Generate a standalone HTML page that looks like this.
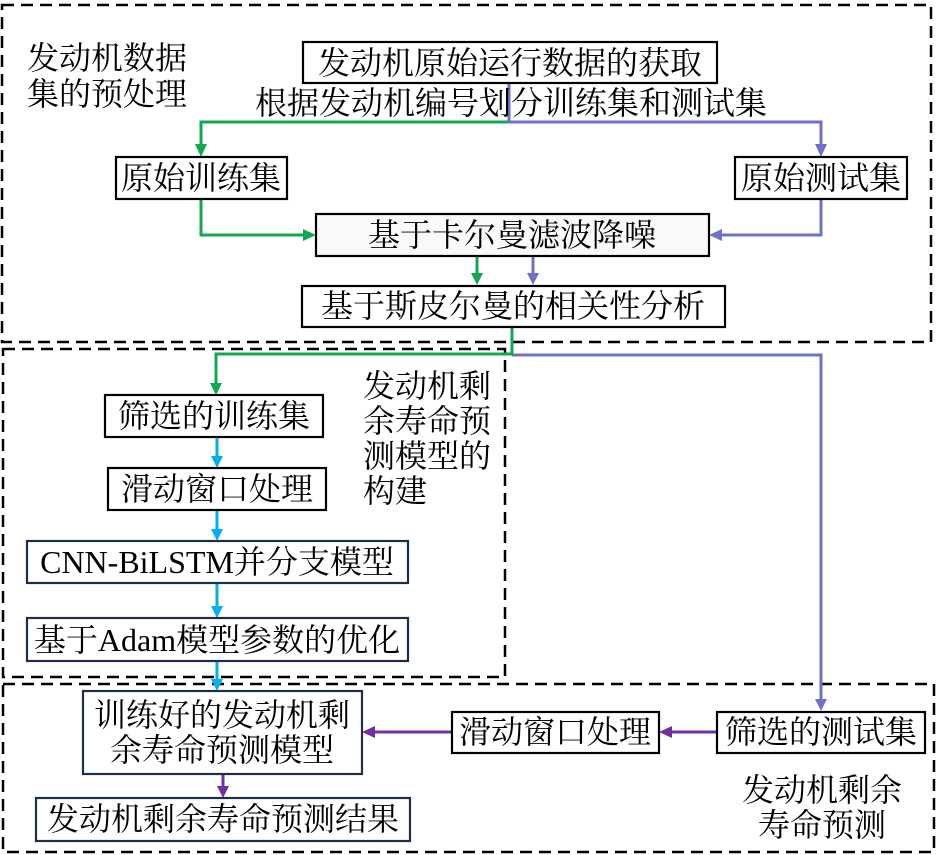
<!DOCTYPE html>
<html><head><meta charset="utf-8">
<style>
html,body{margin:0;padding:0;background:#fff;}
svg{display:block;}
text{font-family:"Liberation Serif","Noto Serif CJK SC",serif;font-size:32px;fill:#000;}
</style></head>
<body>
<svg width="938" height="855" viewBox="0 0 938 855" xmlns="http://www.w3.org/2000/svg">
<rect width="938" height="855" fill="#fff"/>
<!-- dashed group boxes -->
<g fill="none" stroke="#000" stroke-width="2.5" stroke-dasharray="12 7">
  <rect x="2" y="5" width="929" height="337"/>
  <rect x="3" y="349" width="502" height="328"/>
  <rect x="3" y="684" width="931" height="168"/>
</g>

<!-- connectors -->
<g fill="none" stroke-width="3" stroke-linejoin="miter">
  <polyline points="509,122 201,122 201,145" stroke="#10a850"/>
  <polyline points="509,83 509,122 821,122 821,145" stroke="#7070c8"/>
  <polyline points="201,199 201,235 305,235" stroke="#10a850"/>
  <polyline points="821,199 821,235 720,235" stroke="#7070c8"/>
  <line x1="477" y1="256" x2="477" y2="275" stroke="#10a850"/>
  <line x1="533" y1="256" x2="533" y2="275" stroke="#7070c8"/>
  <polyline points="821,700 821,355 512,355" stroke="#7070c8"/>
  <polyline points="512,327 512,354 216,354 216,384" stroke="#10a850"/>
  <g stroke="#00b0f0">
    <line x1="217" y1="437" x2="217" y2="458"/>
    <line x1="217" y1="510" x2="217" y2="531"/>
    <line x1="217" y1="583" x2="217" y2="608"/>
    <line x1="217" y1="661" x2="217" y2="681"/>
  </g>
  <g stroke="#7030a0">
    <line x1="717" y1="732" x2="670" y2="732"/>
    <line x1="452" y1="732" x2="373" y2="732"/>
    <line x1="223" y1="774" x2="223" y2="788"/>
  </g>
</g>
<!-- arrowheads -->
<g>
  <polygon points="195,144 207,144 201,157" fill="#10a850"/>
  <polygon points="815,144 827,144 821,157" fill="#7070c8"/>
  <polygon points="303,229 303,241 316,235" fill="#10a850"/>
  <polygon points="722,229 722,241 709,235" fill="#7070c8"/>
  <polygon points="471,273 483,273 477,285" fill="#10a850"/>
  <polygon points="527,273 539,273 533,285" fill="#7070c8"/>
  <polygon points="210,383 222,383 216,395" fill="#10a850"/>
  <polygon points="815,699 827,699 821,711" fill="#7070c8"/>
  <polygon points="211,456 223,456 217,468" fill="#00b0f0"/>
  <polygon points="211,529 223,529 217,541" fill="#00b0f0"/>
  <polygon points="211,606 223,606 217,618" fill="#00b0f0"/>
  <polygon points="211,679 223,679 217,691" fill="#00b0f0"/>
  <polygon points="672,726 672,738 659,732" fill="#7030a0"/>
  <polygon points="375,726 375,738 362,732" fill="#7030a0"/>
  <polygon points="217,786 229,786 223,798" fill="#7030a0"/>
</g>

<!-- boxes -->
<g stroke-width="2.2">
  <rect x="303" y="42" width="414" height="41" fill="#fff" stroke="#000"/>
  <rect x="116" y="157" width="171" height="42" fill="#fff" stroke="#000"/>
  <rect x="735" y="157" width="172" height="42" fill="#fff" stroke="#000"/>
  <rect x="316" y="214" width="393" height="42" fill="#f9f9f9" stroke="#000"/>
  <rect x="302" y="286" width="423" height="41" fill="#fff" stroke="#000"/>
  <rect x="105" y="395" width="218" height="42" fill="#fff" stroke="#000"/>
  <rect x="108" y="468" width="218" height="42" fill="#fff" stroke="#000"/>
  <rect x="27" y="541" width="381" height="42" fill="#fff" stroke="#1f2d4d"/>
  <rect x="27" y="618" width="381" height="43" fill="#fff" stroke="#1f2d4d"/>
  <rect x="83" y="691" width="279" height="83" fill="#fff" stroke="#1f2d4d"/>
  <rect x="36" y="798" width="374" height="43" fill="#fff" stroke="#1f2d4d"/>
  <rect x="452" y="712" width="207" height="41" fill="#fff" stroke="#000"/>
  <rect x="717" y="712" width="208" height="41" fill="#fff" stroke="#000"/>
</g>

<!-- labels -->
<g dominant-baseline="central">
  <text x="27" y="58">发动机数据</text>
  <text x="27" y="94">集的预处理</text>

  <text x="510" y="63" text-anchor="middle">发动机原始运行数据的获取</text>
  <text x="511" y="103" text-anchor="middle">根据发动机编号划分训练集和测试集</text>
  <text x="201" y="178" text-anchor="middle">原始训练集</text>
  <text x="821" y="178" text-anchor="middle">原始测试集</text>
  <text x="512" y="235" text-anchor="middle">基于卡尔曼滤波降噪</text>
  <text x="513" y="306" text-anchor="middle">基于斯皮尔曼的相关性分析</text>

  <text x="363" y="386">发动机剩</text>
  <text x="363" y="421">余寿命预</text>
  <text x="363" y="456">测模型的</text>
  <text x="363" y="491">构建</text>

  <text x="214" y="416" text-anchor="middle">筛选的训练集</text>
  <text x="217" y="489" text-anchor="middle">滑动窗口处理</text>
  <text x="217" y="562" text-anchor="middle">CNN-BiLSTM并分支模型</text>
  <text x="217" y="640" text-anchor="middle">基于Adam模型参数的优化</text>

  <text x="222" y="715" text-anchor="middle">训练好的发动机剩</text>
  <text x="222" y="750" text-anchor="middle">余寿命预测模型</text>
  <text x="223" y="819" text-anchor="middle">发动机剩余寿命预测结果</text>
  <text x="555" y="732" text-anchor="middle">滑动窗口处理</text>
  <text x="821" y="732" text-anchor="middle">筛选的测试集</text>

  <text x="822" y="790" text-anchor="middle">发动机剩余</text>
  <text x="822" y="825" text-anchor="middle">寿命预测</text>
</g>
</svg>
</body></html>
